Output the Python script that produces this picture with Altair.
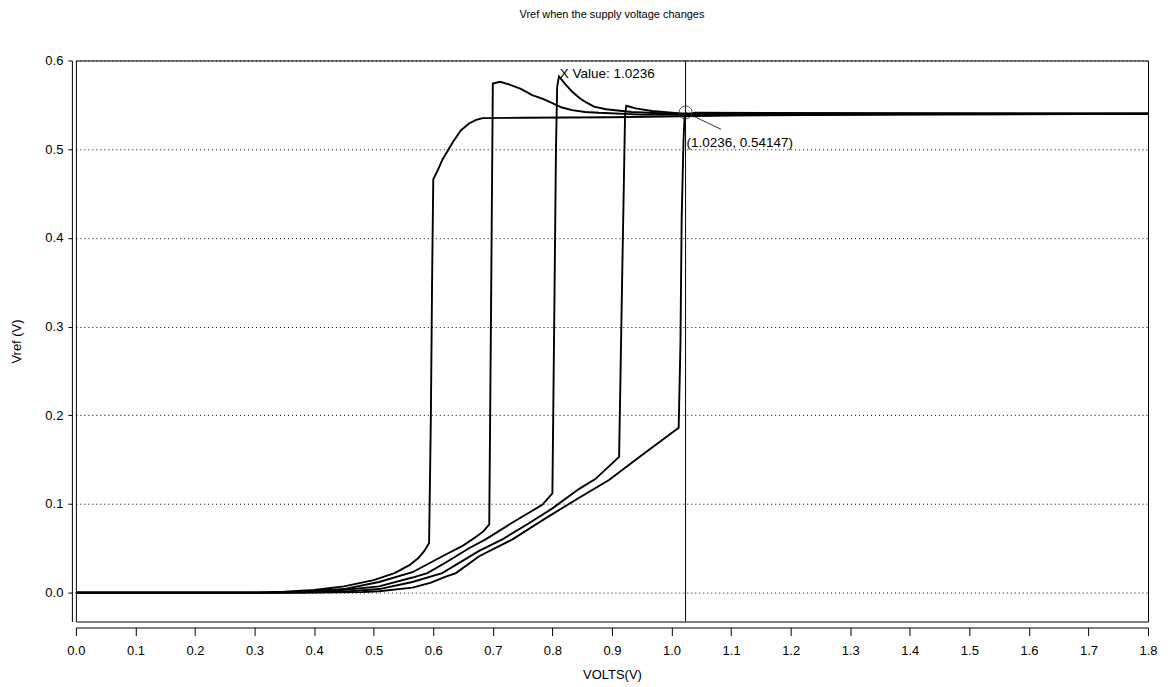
import altair as alt
import pandas as pd

# ---- data ----
A_x = [0.0, 0.30, 0.35, 0.40, 0.45, 0.50, 0.535, 0.56, 0.575, 0.585, 0.593, 0.596, 0.598, 0.600, 0.608, 0.616, 0.624, 0.632, 0.646, 0.660, 0.672, 0.683, 0.75, 0.90, 1.10, 1.40, 1.80]
A_y = [0.0, 0.0, 0.001, 0.003, 0.007, 0.014, 0.022, 0.031, 0.039, 0.047, 0.056, 0.20, 0.35, 0.466, 0.477, 0.489, 0.498, 0.507, 0.521, 0.529, 0.533, 0.535, 0.5355, 0.536, 0.538, 0.539, 0.540]

B_x = [0.0, 0.32, 0.38, 0.45, 0.509, 0.565, 0.621, 0.65, 0.672, 0.684, 0.694, 0.697, 0.700, 0.712, 0.727, 0.747, 0.766, 0.783, 0.80, 0.816, 0.833, 0.855, 0.878, 0.95, 1.10, 1.80]
B_y = [0.0, 0.0, 0.001, 0.004, 0.012, 0.023, 0.043, 0.053, 0.063, 0.069, 0.077, 0.32, 0.574, 0.576, 0.573, 0.568, 0.561, 0.557, 0.552, 0.547, 0.544, 0.542, 0.541, 0.539, 0.539, 0.540]

C_x = [0.0, 0.35, 0.42, 0.509, 0.565, 0.59, 0.621, 0.66, 0.688, 0.733, 0.783, 0.80, 0.803, 0.806, 0.808, 0.811, 0.822, 0.833, 0.845, 0.856, 0.87, 0.89, 0.933, 1.0, 1.80]
C_y = [0.0, 0.0, 0.001, 0.007, 0.017, 0.022, 0.034, 0.050, 0.060, 0.079, 0.099, 0.112, 0.30, 0.50, 0.57, 0.582, 0.573, 0.565, 0.558, 0.553, 0.548, 0.545, 0.542, 0.540, 0.540]

D_x = [0.0, 0.37, 0.45, 0.509, 0.565, 0.615, 0.677, 0.716, 0.760, 0.80, 0.845, 0.872, 0.912, 0.917, 0.922, 0.924, 0.94, 0.967, 1.02, 1.80]
D_y = [0.0, 0.0, 0.001, 0.004, 0.012, 0.022, 0.047, 0.060, 0.078, 0.095, 0.117, 0.128, 0.153, 0.35, 0.538, 0.549, 0.546, 0.543, 0.540, 0.540]

E_x = [0.0, 0.40, 0.48, 0.509, 0.565, 0.595, 0.621, 0.638, 0.677, 0.733, 0.789, 0.845, 0.895, 0.95, 1.012, 1.015, 1.017, 1.020, 1.022, 1.04, 1.80]
E_y = [0.0, 0.0, 0.0005, 0.0015, 0.0056, 0.011, 0.018, 0.022, 0.041, 0.060, 0.084, 0.107, 0.127, 0.155, 0.186, 0.281, 0.42, 0.507, 0.538, 0.541, 0.540]

curve_names = ["A", "B", "C", "D", "E"]
curve_xs = [A_x, B_x, C_x, D_x, E_x]
curve_ys = [A_y, B_y, C_y, D_y, E_y]

x_ticks = [0.0, 0.1, 0.2, 0.3, 0.4, 0.5, 0.6, 0.7, 0.8, 0.9, 1.0, 1.1, 1.2, 1.3, 1.4, 1.5, 1.6, 1.7, 1.8]
y_ticks = [0.0, 0.1, 0.2, 0.3, 0.4, 0.5, 0.6]

cursor_x = [1.0236]
cursor_y = [0.54147]
leader_end = [1.083, 0.5225]
xvalue_label_pos = [0.8125, 0.5845]
coord_label_pos = [1.0253, 0.5068]

title_text = "Vref when the supply voltage changes"
x_title = "VOLTS(V)"
y_title = "Vref (V)"

FONT = "Liberation Sans"

rows = []
for name, xs, ys in zip(curve_names, curve_xs, curve_ys):
    for i, (xv, yv) in enumerate(zip(xs, ys)):
        rows.append({"curve": name, "i": i, "x": xv, "y": yv})
curves_df = pd.DataFrame(rows)

xscale = alt.Scale(domain=[0, 1.8], nice=False, zero=False)
yscale = alt.Scale(domain=[-0.0326, 0.6], nice=False, zero=False)

xaxis = alt.Axis(values=x_ticks, format=".1f", offset=6, tickSize=8, labelPadding=9,
                 grid=False, title=x_title, titlePadding=11, labelFlush=False)
yaxis = alt.Axis(values=y_ticks, format=".1f", offset=4, tickSize=4, labelPadding=5,
                 grid=True, gridDash=[1, 3], gridColor="black", gridOpacity=1,
                 title=y_title, titlePadding=21)

lines = alt.Chart(curves_df).mark_line(color="black", strokeWidth=1.9).encode(
    x=alt.X("x:Q", scale=xscale, axis=xaxis),
    y=alt.Y("y:Q", scale=yscale, axis=yaxis),
    detail="curve:N",
    order="i:Q",
)

cursor_df = pd.DataFrame({"x": cursor_x, "y": cursor_y,
                          "x2": [leader_end[0]], "y2": [leader_end[1]]})

vline = alt.Chart(cursor_df).mark_rule(color="black", strokeWidth=1).encode(
    x=alt.X("x:Q", scale=xscale)
)

leader = alt.Chart(cursor_df).mark_rule(color="black", strokeWidth=0.8).encode(
    x=alt.X("x:Q", scale=xscale), y=alt.Y("y:Q", scale=yscale),
    x2="x2:Q", y2="y2:Q"
)

marker = alt.Chart(cursor_df).mark_point(shape="circle", size=170, filled=False,
                                         color="#333333", strokeWidth=0.8, opacity=1).encode(
    x=alt.X("x:Q", scale=xscale), y=alt.Y("y:Q", scale=yscale)
)

labels_df = pd.DataFrame({
    "x": [xvalue_label_pos[0], coord_label_pos[0]],
    "y": [xvalue_label_pos[1], coord_label_pos[1]],
    "t": ["X Value: %.4f" % cursor_x[0], "(%.4f, %.5f)" % (cursor_x[0], cursor_y[0])],
})
labels = alt.Chart(labels_df).mark_text(align="left", baseline="middle", font=FONT,
                                        fontSize=13.5, color="black").encode(
    x=alt.X("x:Q", scale=xscale), y=alt.Y("y:Q", scale=yscale), text="t:N"
)

chart = alt.layer(lines, vline, leader, marker, labels).properties(
    width=1074, height=562,
    title=alt.Title(title_text, fontSize=11, font=FONT, fontWeight="normal", offset=35, color="black"),
    autosize=alt.AutoSizeParams(type="none"),
    padding={"left": 68, "top": 52, "right": 15, "bottom": 64},
    background="white",
).configure_view(
    stroke="black", strokeWidth=1
).configure_axis(
    domainColor="black", tickColor="black", labelColor="black", titleColor="black",
    labelFont=FONT, titleFont=FONT, labelFontSize=13, titleFontSize=13,
    titleFontWeight="normal", domainWidth=1, tickWidth=1
)

chart.save("out.html", embed_options={"renderer": "svg", "actions": False})
